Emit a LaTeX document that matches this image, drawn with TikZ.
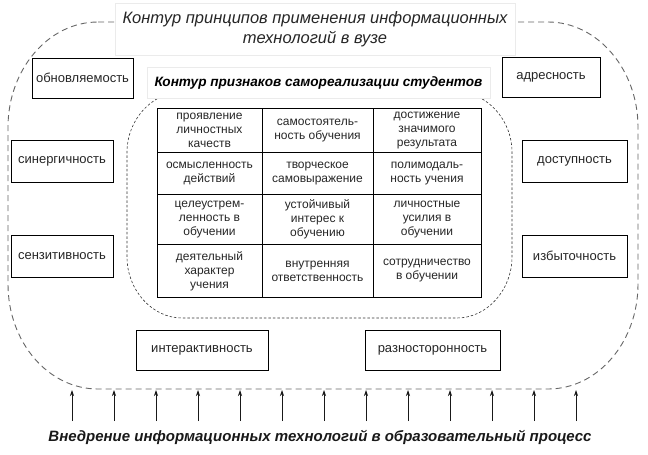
\documentclass[tikz,border=0pt]{standalone}
\usepackage{fontspec}
\setmainfont{Liberation Sans}
\usetikzlibrary{arrows.meta}
\begin{document}
\begin{tikzpicture}[x=1pt,y=-1pt,
  outerline/.style={draw=black!60,line width=0.9pt,dash pattern=on 6pt off 4pt},
  innerline/.style={draw=black!80,line width=0.6pt,dash pattern=on 2.5pt off 2pt},
  titlebox/.style={draw=black!8,fill=white,line width=0.6pt,inner sep=0pt},
  sidebox/.style={draw=black,line width=0.6pt,fill=white,inner sep=0pt,
    font=\fontsize{13}{15}\selectfont,text=black!85},
  cell/.style={draw=black,line width=0.8pt,inner sep=0pt,align=center,
    font=\fontsize{12}{14}\selectfont,text=black!85},
  uparrow/.style={-{Stealth[length=6pt,width=4pt]},line width=0.7pt,black!90}]
\useasboundingbox (0,0) rectangle (648,455);
% outer dashed contour
\draw[outerline] (98,22) -- (548,22) .. controls (598,22) and (638,70) .. (638,127)
  -- (638,284) .. controls (638,342) and (598,389) .. (548,389)
  -- (98,389) .. controls (48,389) and (8,342) .. (8,284)
  -- (8,127) .. controls (8,70) and (48,22) .. (98,22) -- cycle;
% inner dashed contour
\draw[innerline] (182,92) -- (457,92) .. controls (487,92) and (512,120) .. (512,152)
  -- (512,257) .. controls (512,290) and (487,318) .. (457,318)
  -- (182,318) .. controls (152,318) and (127,290) .. (127,257)
  -- (127,152) .. controls (127,120) and (152,92) .. (182,92) -- cycle;
% titles
\node[titlebox,minimum width=400pt,minimum height=52pt,align=center,
  font=\fontsize{16.5}{20}\selectfont\itshape,text=black!85] (outertitle) at (315,29)
  {Контур принципов применения информационных\\технологий в вузе};
\node[titlebox,minimum width=343pt,minimum height=31pt,
  font=\fontsize{13.6}{15}\selectfont\bfseries\itshape] (innertitle) at (318.5,82.5)
  {Контур признаков самореализации студентов};
% side boxes
\node[sidebox,minimum width=101pt,minimum height=40pt] (obn) at (82.5,78) {обновляемость};
\node[sidebox,minimum width=98pt,minimum height=40pt] (adr) at (551,77.5) {адресность};
\node[sidebox,minimum width=102pt,minimum height=42pt] (sin) at (62,161) {синергичность};
\node[sidebox,minimum width=102pt,minimum height=42pt] (sen) at (62,256) {сензитивность};
\node[sidebox,minimum width=105pt,minimum height=42pt] (dos) at (574.5,161) {доступность};
\node[sidebox,minimum width=105pt,minimum height=42pt] (izb) at (574.5,256) {избыточность};
\node[sidebox,minimum width=132pt,minimum height=40pt] (int) at (202,350) {интерактивность};
\node[sidebox,minimum width=135pt,minimum height=40pt] (raz) at (432.5,350) {разносторонность};
% table
\node[cell,minimum width=105pt,minimum height=44pt] (c11) at (209.5,130.5) {проявление\\личностных\\качеств};
\node[cell,minimum width=111pt,minimum height=44pt] (c12) at (317.5,130.5) {самостоятель-\\ность обучения};
\node[cell,minimum width=108pt,minimum height=44pt] (c13) at (427,130.5) {достижение\\значимого\\результата};
\node[cell,minimum width=105pt,minimum height=42pt] (c21) at (209.5,173.5) {осмысленность\\действий};
\node[cell,minimum width=111pt,minimum height=42pt] (c22) at (317.5,173.5) {творческое\\самовыражение};
\node[cell,minimum width=108pt,minimum height=42pt] (c23) at (427,173.5) {полимодаль-\\ность учения};
\node[cell,minimum width=105pt,minimum height=50pt] (c31) at (209.5,219.5) {целеустрем-\\ленность в\\обучении};
\node[cell,minimum width=111pt,minimum height=50pt] (c32) at (317.5,219.5) {устойчивый\\интерес к\\обучению};
\node[cell,minimum width=108pt,minimum height=50pt] (c33) at (427,219.5) {личностные\\усилия в\\обучении};
\node[cell,minimum width=105pt,minimum height=53pt] (c41) at (209.5,271) {деятельный\\характер\\учения};
\node[cell,minimum width=111pt,minimum height=53pt] (c42) at (317.5,271) {внутренняя\\ответственность};
\node[cell,minimum width=108pt,minimum height=53pt] (c43) at (427,271) {сотрудничество\\в обучении};
% arrows
\foreach \i in {0,...,12}{
  \coordinate (s\i) at ({72+42*\i},421);
  \coordinate (e\i) at ({72+42*\i},390);
  \draw[uparrow] (s\i) -- (e\i);
}
\node[font=\fontsize{15}{17}\selectfont\bfseries\itshape,text=black!90] (bottomtext) at (320,437)
  {Внедрение информационных технологий в образовательный процесс};
\end{tikzpicture}
\end{document}
